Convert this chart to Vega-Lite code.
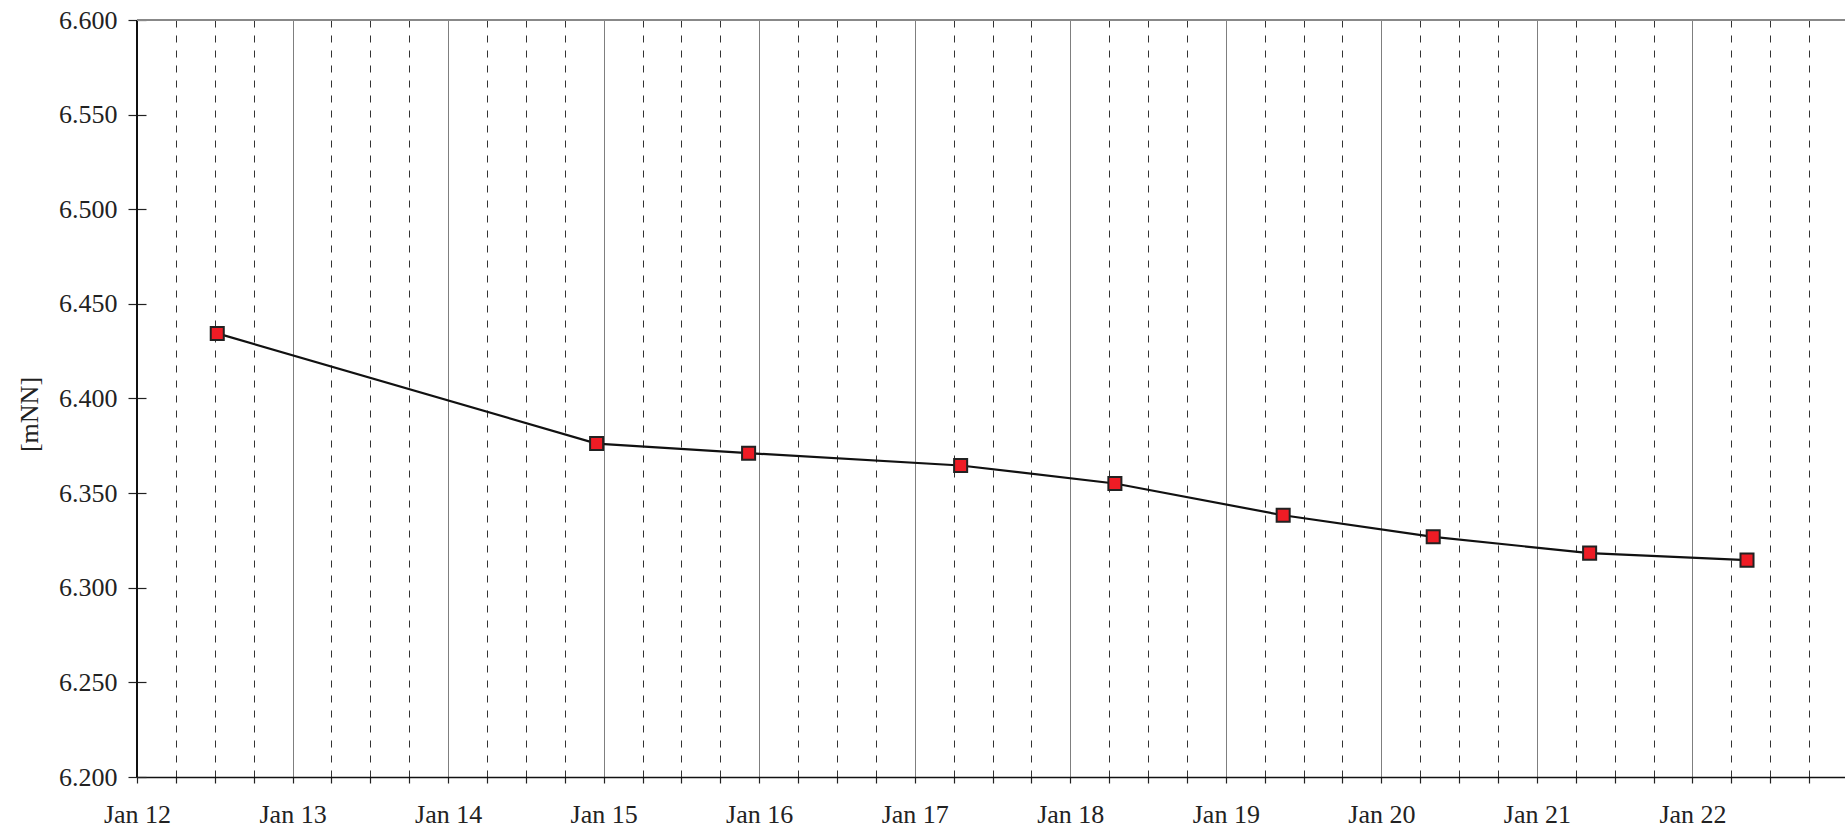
{
  "$schema": "https://vega.github.io/schema/vega-lite/v6.json",
  "autosize": {"type": "none"},
  "padding": {"left": 137, "top": 20, "right": 0, "bottom": 56},
  "width": 1711,
  "height": 757,
  "background": "white",
  "config": {
    "view": {"stroke": null},
    "font": "Liberation Serif"
  },
  "data": {
    "values": [
      {"time": "2020-01-12T12:23:00Z", "level": 6.4344},
      {"time": "2020-01-14T22:55:00Z", "level": 6.3762},
      {"time": "2020-01-15T22:22:00Z", "level": 6.3711},
      {"time": "2020-01-17T07:05:00Z", "level": 6.3646},
      {"time": "2020-01-18T06:53:00Z", "level": 6.3551},
      {"time": "2020-01-19T08:51:00Z", "level": 6.3383},
      {"time": "2020-01-20T08:00:00Z", "level": 6.3269},
      {"time": "2020-01-21T08:08:00Z", "level": 6.3183},
      {"time": "2020-01-22T08:25:00Z", "level": 6.3146}
    ]
  },
  "layer": [
    {
      "mark": {"type": "line", "color": "#111", "strokeWidth": 2.2},
      "encoding": {
        "x": {
          "field": "time",
          "type": "temporal",
          "title": null,
          "scale": {
            "type": "utc",
            "domain": [
              {"year": 2020, "month": 1, "date": 12, "utc": true},
              {"year": 2020, "month": 1, "date": 23, "utc": true}
            ],
            "nice": false
          },
          "axis": {
            "tickCount": 44,
            "grid": true,
            "gridDash": {"condition": {"test": "utchours(datum.value) == 0", "value": [1, 0]}, "value": [7, 8]},
            "gridColor": {"condition": {"test": "utchours(datum.value) == 0", "value": "#555"}, "value": "#333"},
            "gridWidth": 1,
            "gridOpacity": 1,
            "tickSize": 6,
            "tickColor": "#222",
            "tickWidth": 1.2,
            "domainColor": "#111",
            "domainWidth": 1.5,
            "labelExpr": "utchours(datum.value) == 0 && utcdate(datum.value) != 23 ? utcFormat(datum.value, '%b %d') : ''",
            "labelOverlap": false,
            "labelFlush": false,
            "labelFont": "Liberation Serif",
            "labelFontSize": 26,
            "labelColor": "#222",
            "labelPadding": 18
          }
        },
        "y": {
          "field": "level",
          "type": "quantitative",
          "title": "[mNN]",
          "scale": {"domain": [6.2, 6.6], "nice": false, "zero": false},
          "axis": {
            "values": [6.2, 6.25, 6.3, 6.35, 6.4, 6.45, 6.5, 6.55, 6.6],
            "format": ".3f",
            "grid": false,
            "domain": false,
            "offset": -9,
            "tickSize": 18,
            "tickColor": "#222",
            "tickWidth": 1.2,
            "labelFont": "Liberation Serif",
            "labelFontSize": 26,
            "labelColor": "#222",
            "labelPadding": 11,
            "titleFont": "Liberation Serif",
            "titleFontSize": 26,
            "titleFontWeight": "normal",
            "titleColor": "#222",
            "titleX": -117,
            "titleY": 394,
            "titleBaseline": "middle"
          }
        }
      }
    },
    {
      "mark": {"type": "rule", "color": "#111", "strokeWidth": 1.6},
      "encoding": {
        "x": {"datum": {"year": 2020, "month": 1, "date": 12, "utc": true}, "type": "temporal"}
      }
    },
    {
      "mark": {"type": "rule", "color": "#888", "strokeWidth": 1.5},
      "encoding": {
        "y": {"datum": 6.6, "type": "quantitative"}
      }
    },
    {
      "mark": {"type": "point", "shape": "square", "size": 170, "filled": true, "fill": "#ee1c25", "stroke": "#222", "strokeWidth": 2, "opacity": 1},
      "encoding": {
        "x": {"field": "time", "type": "temporal"},
        "y": {"field": "level", "type": "quantitative"}
      }
    }
  ]
}
